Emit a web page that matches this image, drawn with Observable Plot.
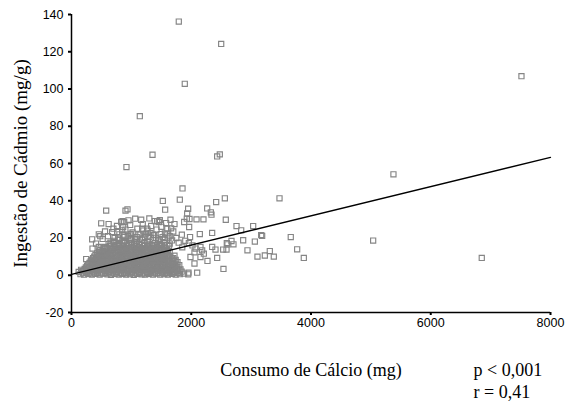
<!DOCTYPE html>
<html><head><meta charset="utf-8">
<script src="https://cdn.jsdelivr.net/npm/d3@7"></script>
<script src="https://cdn.jsdelivr.net/npm/@observablehq/plot@0.6"></script>
<style>body{margin:0;background:#fff}</style>
</head><body><div id="chart"></div>
<script>
// [Consumo de Cálcio (mg), Ingestão de Cádmio (mg/g)]
const pontos = [
[1792,136.2],[2500,124.2],[1892,102.8],[1141,85.4],[1353,64.7],[2477,64.9],[2433,63.8],
[918,58.1],[1854,46.6],[1525,39.9],[1809,40.6],[2561,41.3],[2416,39.3],[3474,41.3],
[579,34.7],[902,34.7],[935,35.4],[1564,35.2],[1948,35.7],[2266,35.9],[1932,33.2],[2327,33.8],[2338,32.5],
[496,27.9],[852,29.0],[952,29.5],[1064,30.4],[1164,29.8],[1391,29.1],[1475,29.6],[1653,29.8],[1971,30.2],[2088,30.0],[2204,30.0],[2577,29.8],
[345,19.3],[456,22.0],[2756,26.4],[2834,24.1],[3034,26.4],[3168,21.6],[3184,21.1],[3662,20.5],[3769,13.9],[3880,9.3],
[3312,13.0],[3229,10.6],[3106,10.0],[3379,10.0],[2867,18.8],[3062,18.1],[2939,13.4],[2538,3.4],
[2672,18.4],[2605,16.6],[2705,16.6],[2533,13.8],[2433,9.3],[2271,7.7],[2099,1.4],[1954,1.4],
[2349,15.2],[2405,13.8],[2589,13.8],[2154,15.2],[2154,9.8],[2054,12.3],[2054,6.3],[2210,11.6],[1960,17.3],[2143,22.1],[2349,22.7],[1843,21.8],[1965,25.9],[1664,25.2],
[7515,106.9],[5377,54.2],[5038,18.6],[6852,9.3],
[830,28.6],[679,23.2],[763,23.2],[846,24.1],[863,25.9],[707,17.9],[351,14.3],[456,15.2],[568,14.9],[245,8.7],[1181,25],[1264,25],[1319,22.7],[1458,28.6],[985,21.4],
[1431,29.1],[1882,28.6],[1926,30.4],[2594,17.3],[2182,13.4],[2071,14.3],[1987,9.8],
[410,17],[520,19.5],[610,21],[650,17.5],[720,20],[760,26.5],[800,22],[850,18.5],[900,24.5],[940,21],[980,27],[1020,23],[1060,19.5],[1100,25],[1150,22],[1190,27.5],[1230,20.5],[1270,24],[1330,26.5],[1380,21.5],[1420,24.5],[1470,19],[1500,26],[1560,22.5],[1600,25],[1640,21],[1700,23.5],[1750,20],[1790,17.5],[1850,15],[1900,18.5],[1980,20.5],[2020,16],[1720,27.5],[1580,28],[1300,30.5],[1200,24],[1000,17.5],[880,28.5],[700,25],[620,27.5],[560,23.5],[480,21],
[150,0.6],[210,0.3],[280,0.8],[340,0.4],[400,0.7],[470,0.3],[530,0.9],[600,0.5],[660,0.2],[720,0.7],[790,0.4],[850,0.8],[910,0.3],[980,0.6],[1040,0.2],[1100,0.8],[1170,0.5],[1230,0.3],[1290,0.7],[1360,0.4],[1420,0.9],[1480,0.3],[1550,0.6],[1610,0.4],[1680,0.8],[1740,0.3],[1810,0.6],[1880,0.9],[1950,0.5],
[190,1.1],[250,1.3],[310,1.0],[375,1.4],[435,1.2],[500,1.0],[565,1.3],[630,1.1],[690,1.4],[755,1.0],[820,1.3],[880,1.2],[945,1.0],[1010,1.4],[1070,1.1],[1135,1.3],[1200,1.0],[1260,1.2],[1325,1.4],[1390,1.1],[1450,1.3],[1515,1.0],[1580,1.2],[1645,1.4],[1710,1.1],[1775,1.3],
[120,1.8],[180,2.2],[250,1.6],[310,2.4],[370,1.9],[440,2.1],[500,1.5],[560,2.3],[630,1.8],[690,2.5],[750,1.7],[820,2.2],[880,1.9],[940,2.4],[1010,1.6],[1070,2.1],[1130,1.8],[1200,2.5],[1260,1.7],[1320,2.2],[1390,1.9],[1450,2.4],[1510,1.6],[1580,2.1],[1640,2.3],[1710,1.8],[1770,2.4],[1840,1.9],
[160,2.9],[220,2.7],[285,3.0],[345,2.6],[410,2.9],[470,2.7],[535,3.0],[595,2.8],[660,2.6],[720,3.0],[785,2.7],[845,2.9],[910,2.6],[970,3.0],[1035,2.8],[1100,2.6],[1160,2.9],[1225,2.7],[1285,3.0],[1350,2.8],[1410,2.6],[1475,2.9],[1540,2.7],[1600,3.0],[1665,2.8],[1730,2.6],[1800,2.9],
[220,3.4],[290,3.8],[350,3.2],[420,3.9],[480,3.5],[540,3.1],[610,3.8],[670,3.3],[730,3.9],[800,3.4],[860,3.7],[920,3.1],[990,3.6],[1050,3.9],[1110,3.3],[1180,3.7],[1240,3.2],[1300,3.8],[1370,3.4],[1430,3.9],[1490,3.2],[1560,3.6],[1620,3.3],[1690,3.8],[1760,3.5],[1820,3.2],
[240,4.2],[300,4.4],[365,4.1],[425,4.5],[490,4.3],[550,4.1],[615,4.4],[675,4.2],[740,4.5],[800,4.1],[865,4.4],[930,4.2],[990,4.5],[1055,4.3],[1120,4.1],[1180,4.4],[1245,4.2],[1310,4.5],[1370,4.1],[1435,4.3],[1500,4.5],[1565,4.2],[1630,4.4],[1700,4.1],[1770,4.3],
[260,5.1],[330,4.8],[390,5.4],[450,4.9],[520,5.3],[580,4.7],[640,5.2],[710,5.5],[770,4.8],[830,5.3],[900,4.9],[960,5.5],[1020,4.7],[1090,5.2],[1150,5.6],[1210,4.9],[1280,5.3],[1340,4.8],[1400,5.4],[1470,5.0],[1530,5.5],[1600,4.8],[1660,5.2],[1730,5.0],[1800,5.4],
[280,5.8],[345,6.0],[410,5.7],[470,6.1],[535,5.9],[595,5.7],[660,6.0],[725,5.8],[785,6.1],[850,5.7],[915,6.0],[975,5.8],[1040,6.1],[1105,5.7],[1170,5.9],[1230,6.1],[1295,5.8],[1360,6.0],[1420,5.7],[1485,6.1],[1550,5.9],[1615,5.7],[1680,6.0],[1750,5.8],
[300,6.6],[360,7.0],[430,6.5],[490,7.1],[550,6.8],[620,6.4],[680,7.2],[740,6.7],[810,7.0],[870,6.5],[930,7.2],[1000,6.8],[1060,6.4],[1120,7.1],[1190,6.7],[1250,7.2],[1310,6.6],[1380,7.0],[1440,6.5],[1500,7.1],[1570,6.8],[1630,7.2],[1700,6.6],[1770,7.0],
[320,7.5],[390,7.8],[450,7.4],[510,7.9],[575,7.6],[640,7.4],[700,7.8],[765,7.5],[830,7.9],[890,7.4],[955,7.7],[1020,7.5],[1080,7.9],[1145,7.6],[1210,7.4],[1270,7.8],[1335,7.5],[1400,7.9],[1460,7.6],[1525,7.4],[1590,7.8],[1650,7.5],[1720,7.7],
[340,8.3],[410,8.7],[470,8.2],[530,8.8],[600,8.4],[660,8.9],[720,8.3],[790,8.6],[850,8.1],[910,8.8],[980,8.5],[1040,8.9],[1100,8.2],[1170,8.7],[1230,8.4],[1290,8.9],[1360,8.3],[1420,8.6],[1480,8.2],[1550,8.8],[1610,8.5],[1680,8.9],[1740,8.3],
[360,9.2],[430,9.5],[490,9.1],[550,9.6],[615,9.3],[680,9.1],[740,9.5],[805,9.2],[870,9.6],[930,9.1],[995,9.4],[1060,9.2],[1120,9.6],[1185,9.3],[1250,9.1],[1310,9.5],[1375,9.2],[1440,9.6],[1500,9.3],[1565,9.1],[1630,9.5],[1700,9.2],
[380,10.0],[450,10.4],[510,9.9],[570,10.5],[640,10.1],[700,10.6],[760,10.0],[830,10.3],[890,9.9],[950,10.5],[1020,10.2],[1080,10.6],[1140,10.0],[1210,10.4],[1270,9.9],[1330,10.5],[1400,10.1],[1460,10.6],[1520,10.0],[1590,10.4],[1650,10.2],[1720,10.5],
[400,10.9],[470,11.2],[535,10.8],[595,11.3],[660,11.0],[725,10.8],[785,11.2],[850,10.9],[915,11.3],[975,10.8],[1040,11.1],[1105,10.9],[1165,11.3],[1230,11.0],[1295,10.8],[1355,11.2],[1420,10.9],[1485,11.3],[1545,11.0],[1610,10.8],
[430,11.8],[500,12.2],[560,11.7],[620,12.3],[690,11.9],[750,12.4],[810,11.8],[880,12.2],[940,11.7],[1000,12.3],[1070,12.0],[1130,12.4],[1190,11.8],[1260,12.2],[1320,11.9],[1380,12.4],[1450,11.8],[1510,12.2],[1570,12.0],[1640,12.3],
[460,12.7],[525,13.0],[590,12.6],[655,13.1],[720,12.8],[785,12.6],[845,13.0],[910,12.7],[975,13.1],[1040,12.6],[1100,12.9],[1165,12.7],[1230,13.1],[1290,12.8],[1355,12.6],[1420,13.0],[1480,12.7],[1545,13.1],[1610,12.8],
[480,13.5],[550,13.9],[620,13.4],[690,14.0],[760,13.6],[820,14.1],[880,13.5],[950,13.9],[1010,13.4],[1080,14.0],[1140,13.6],[1200,14.1],[1270,13.5],[1330,13.9],[1390,13.6],[1460,14.0],[1520,13.5],[1590,13.8],
[520,14.4],[590,14.7],[655,14.3],[725,14.8],[790,14.5],[850,14.3],[915,14.7],[980,14.4],[1045,14.8],[1110,14.3],[1175,14.6],[1240,14.4],[1300,14.8],[1365,14.5],[1430,14.3],[1500,14.7],[1570,14.4],
[560,15.2],[640,15.6],[720,15.1],[790,15.7],[860,15.3],[930,15.8],[1000,15.2],[1070,15.6],[1140,15.1],[1210,15.7],[1280,15.3],[1350,15.8],[1420,15.2],[1490,15.6],[1560,15.3],[1630,15.7],
[660,16.0],[750,16.3],[840,15.9],[920,16.4],[1010,16.1],[1090,15.9],[1180,16.3],[1260,16.0],[1340,16.4],[1430,16.1],[1510,15.9],[1600,16.2],
[620,16.8],[710,17.2],[800,16.7],[880,17.3],[960,16.9],[1050,17.4],[1130,16.8],[1220,17.2],[1300,16.9],[1390,17.3],[1470,16.8],[1550,17.2],[1640,17.0],
[700,18.5],[800,18.9],[890,18.4],[990,19.0],[1080,18.6],[1180,19.1],[1270,18.5],[1360,18.9],[1450,18.6],[1560,19.0],[1680,18.7],
[780,20.1],[880,20.6],[990,20.0],[1090,20.5],[1200,20.2],[1300,20.6],[1410,20.1],[1520,20.5],[1620,20.2],
[870,21.8],[990,22.2],[1120,21.9],[1240,22.3],[1360,21.8],[1490,22.1],[1600,21.9]
];
const xTicks = [0, 2000, 4000, 6000, 8000];
const yTicks = [-20, 0, 20, 40, 60, 80, 100, 120, 140];
const retaX = [0, 8000];
const retaY = [0.5, 63.3];
const rotuloX = "Consumo de Cálcio (mg)";
const rotuloY = "Ingestão de Cádmio (mg/g)";
const estatP = "p < 0,001";
const estatR = "r = 0,41";

const reta = retaX.map((x, i) => ({x, y: retaY[i]}));
const serif = "'Liberation Serif', 'Times New Roman', serif";
const fmt = d => String(d);

const chart = Plot.plot({
  width: 566, height: 405,
  marginLeft: 71, marginRight: 16, marginTop: 14, marginBottom: 93,
  x: {domain: [0, 8000]},
  y: {domain: [-20, 140]},
  style: {fontFamily: "'Liberation Sans', Arial, sans-serif", fontSize: "12px", background: "white", color: "black"},
  marks: [
    Plot.dot(pontos, {x: d => d[0], y: d => d[1], symbol: "square", r: 2.9, stroke: "#858585", fill: "none", strokeWidth: 1.15}),
    Plot.line(reta, {x: "x", y: "y", stroke: "black", strokeWidth: 1.3}),
    Plot.ruleX([0], {stroke: "black", strokeWidth: 1.5}),
    Plot.ruleY([-20], {stroke: "black", strokeWidth: 1.5}),
    Plot.axisX(xTicks, {tickSize: 3, strokeWidth: 2, tickPadding: 3, label: null, fontSize: 12.5, tickFormat: fmt}),
    Plot.axisY(yTicks, {tickSize: 3, strokeWidth: 2, tickPadding: 5, label: null, fontSize: 12.5, tickFormat: fmt}),
    Plot.text([rotuloX], {text: d => d, frameAnchor: "bottom", lineAnchor: "middle", dy: 58, fontFamily: serif, fontSize: 18}),
    Plot.text([rotuloY], {text: d => d, frameAnchor: "left", lineAnchor: "middle", textAnchor: "middle", rotate: -90, dx: -51, fontFamily: serif, fontSize: 19}),
    Plot.text([estatP], {text: d => d, frameAnchor: "bottom-right", lineAnchor: "middle", textAnchor: "start", dx: -77, dy: 58, fontFamily: serif, fontSize: 18}),
    Plot.text([estatR], {text: d => d, frameAnchor: "bottom-right", lineAnchor: "middle", textAnchor: "start", dx: -77, dy: 80, fontFamily: serif, fontSize: 18})
  ]
});
document.getElementById("chart").appendChild(chart);
</script>
</body></html>
